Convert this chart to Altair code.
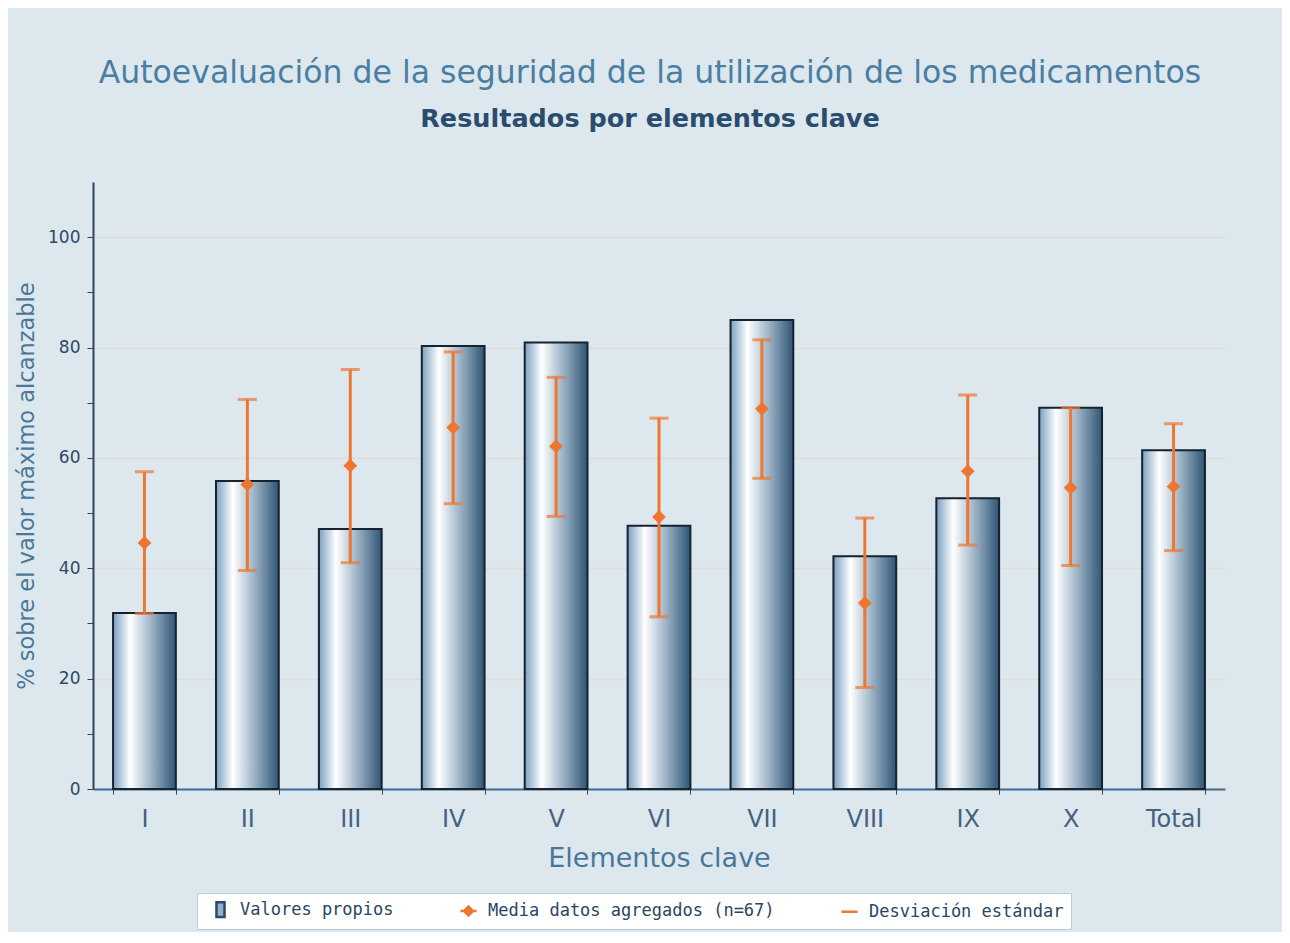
import altair as alt
import pandas as pd

categorias = ["I", "II", "III", "IV", "V", "VI", "VII", "VIII", "IX", "X", "Total"]
valores_propios = [31.9, 55.8, 47.1, 80.3, 80.9, 47.7, 85.0, 42.2, 52.7, 69.1, 61.4]
media_agregados = [44.6, 55.2, 58.6, 65.5, 62.1, 49.3, 68.9, 33.7, 57.6, 54.6, 54.8]
desv_sup = [57.5, 70.6, 76.0, 79.2, 74.6, 67.2, 81.4, 49.1, 71.4, 69.1, 66.2]
desv_inf = [31.8, 39.6, 41.0, 51.7, 49.4, 31.2, 56.3, 18.4, 44.2, 40.5, 43.2]
series_leyenda = ["Valores propios", "Media datos agregados (n=67)", "Desviación estándar"]

df = pd.DataFrame({
    "cat": categorias,
    "propio": valores_propios,
    "media": media_agregados,
    "hi": desv_sup,
    "lo": desv_inf,
})
df_leg = pd.DataFrame({"serie": series_leyenda})

ORANGE = "#ee7630"

x_enc = alt.X(
    "cat:N",
    sort=categorias,
    scale=alt.Scale(paddingInner=0.39, paddingOuter=0.195),
    axis=alt.Axis(
        title="Elementos clave",
        titleFont="DejaVu Sans",
        titleFontSize=27,
        titleFontWeight="normal",
        titleColor="#4a7799",
        titlePadding=14,
        labelFont="DejaVu Sans",
        labelFontSize=24,
        labelColor="#44627f",
        labelPadding=13,
        labelAngle=0,
        tickBand="extent",
        tickSize=5,
        tickColor="#2c4660",
        domainColor="#3f6a8e",
        domainWidth=2,
        grid=False,
    ),
)

y_scale = alt.Scale(domain=[0, 110], nice=False)
y_axis = alt.Axis(
    title="% sobre el valor máximo alcanzable",
    titleFont="DejaVu Sans",
    titleFontSize=22.5,
    titleFontWeight="normal",
    titleColor="#4a7799",
    titlePadding=9,
    values=[0, 10, 20, 30, 40, 50, 60, 70, 80, 90, 100],
    labelExpr="datum.value % 20 === 0 ? datum.label : ''",
    labelFont="DejaVu Sans",
    labelFontSize=17,
    labelColor="#2c4866",
    labelPadding=7,
    tickSize=6,
    tickColor="#2c4660",
    domainColor="#2c4660",
    domainWidth=2,
    grid=True,
    gridColor="#e2d9d9",
    gridWidth=1.5,
    gridOpacity={"condition": {"test": "datum.value % 20 === 0 && datum.value > 0", "value": 1}, "value": 0},
)

gradiente = alt.Gradient(
    gradient="linear",
    x1=0, x2=1, y1=0, y2=0,
    stops=[
        alt.GradientStop(color="#7aa0c0", offset=0.0),
        alt.GradientStop(color="#ffffff", offset=0.27),
        alt.GradientStop(color="#9fb5c8", offset=0.6),
        alt.GradientStop(color="#2f5575", offset=1.0),
    ],
)

base = alt.Chart(df)

barras = base.mark_bar(fill=gradiente, stroke="#15222f", strokeWidth=2).encode(
    x=x_enc,
    y=alt.Y("propio:Q", scale=y_scale, axis=y_axis),
)

reglas = base.mark_rule(color=ORANGE, strokeWidth=3).encode(
    x=alt.X("cat:N", sort=categorias),
    y="lo:Q",
    y2="hi:Q",
)

tapa_sup = base.mark_tick(color=ORANGE, thickness=3, size=19, orient="horizontal").encode(
    x=alt.X("cat:N", sort=categorias),
    y="hi:Q",
)
tapa_inf = base.mark_tick(color=ORANGE, thickness=3, size=19, orient="horizontal").encode(
    x=alt.X("cat:N", sort=categorias),
    y="lo:Q",
)

puntos = base.mark_point(shape="diamond", filled=True, size=190, color=ORANGE, opacity=1).encode(
    x=alt.X("cat:N", sort=categorias),
    y="media:Q",
)

leg = alt.Legend(
    title=None,
    orient="none",
    legendX=104,
    legendY=711,
    direction="horizontal",
    fillColor="#ffffff",
    strokeColor="#b9cdd9",
    padding=7,
    columnPadding=58,
    labelOffset=10,
    labelLimit=500,
    labelFont="DejaVu Sans Mono",
    labelFontSize=17,
    labelColor="#2b4560",
    symbolSize=260,
    symbolOffset=7,
    symbolStrokeWidth=2.5,
    symbolOpacity=1,
)

rect_path = "M-0.5,-0.9H0.5V0.9H-0.5Z"
diam_path = "M-1,0H1M0,-0.55L0.55,0L0,0.55L-0.55,0Z"

leyenda = alt.Chart(df_leg).mark_point(opacity=0, filled=True).encode(
    shape=alt.Shape("serie:N", scale=alt.Scale(domain=series_leyenda, range=[rect_path, diam_path, "stroke"]), legend=leg),
    fill=alt.Fill("serie:N", scale=alt.Scale(domain=series_leyenda, range=["#8eb0cc", ORANGE, ORANGE]), legend=leg),
    stroke=alt.Stroke("serie:N", scale=alt.Scale(domain=series_leyenda, range=["#2b4a66", ORANGE, ORANGE]), legend=leg),
)

chart = alt.layer(barras, reglas, tapa_sup, tapa_inf, puntos, leyenda).properties(
    width=1132,
    height=607,
    title=alt.TitleParams(
        text="Autoevaluación de la seguridad de la utilización de los medicamentos",
        subtitle="Resultados por elementos clave",
        font="DejaVu Sans",
        fontSize=31.5,
        fontWeight="normal",
        color="#4a7ea3",
        subtitleFont="DejaVu Sans",
        subtitleFontSize=25.5,
        subtitleFontWeight="bold",
        subtitleColor="#2b4d6d",
        subtitlePadding=17,
        anchor="middle",
        offset=50,
        dx=-9,
    ),
    autosize=alt.AutoSizeParams(type="none"),
    padding={"left": 85, "top": 174, "right": 57, "bottom": 143},
    background="#dde8ee",
).configure_view(fill="#ffffff", stroke=None)

chart.save("out.html", embed_options={"renderer": "svg", "actions": False})
